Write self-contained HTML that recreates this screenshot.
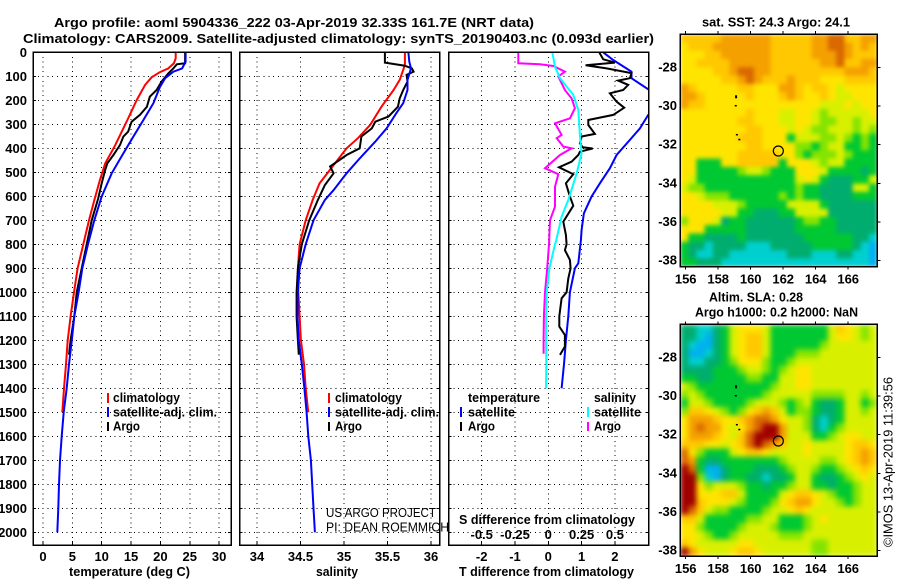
<!DOCTYPE html>
<html>
<head>
<meta charset="utf-8">
<title>Argo profile</title>
<style>
html,body{margin:0;padding:0;background:#fff;width:900px;height:580px;overflow:hidden}
svg{display:block}
text{font-family:"Liberation Sans",sans-serif;font-weight:bold;font-size:13px;fill:#000}
.thin{font-weight:normal;font-size:13px}
.frame{fill:none;stroke:#000;stroke-width:1.5;shape-rendering:crispEdges}
</style>
</head>
<body>
<svg id="chart" width="900" height="580" viewBox="0 0 900 580" xmlns="http://www.w3.org/2000/svg">
<defs>
<clipPath id="clip-p1"><rect x="33" y="52" width="198" height="493"/></clipPath>
<clipPath id="clip-p2"><rect x="239.5" y="52" width="200" height="493"/></clipPath>
<clipPath id="clip-p3"><rect x="448.5" y="52" width="200" height="493"/></clipPath>
<filter id="blur-sst" x="0" y="0" width="100%" height="100%" color-interpolation-filters="sRGB"><feGaussianBlur stdDeviation="2" edgeMode="duplicate"/></filter>
<filter id="blur-sla" x="0" y="0" width="100%" height="100%" color-interpolation-filters="sRGB"><feGaussianBlur stdDeviation="2.6" edgeMode="duplicate"/></filter>
</defs>

<text x="54" y="27" textLength="480" lengthAdjust="spacingAndGlyphs">Argo profile: aoml 5904336_222 03-Apr-2019 32.33S 161.7E (NRT data)</text>
<text x="23" y="43" textLength="631" lengthAdjust="spacingAndGlyphs">Climatology: CARS2009. Satellite-adjusted climatology: synTS_20190403.nc (0.093d earlier)</text>

<g id="grids"></g>
<g id="series"></g>

<rect class="frame" x="33" y="52" width="198" height="493"/>
<rect class="frame" x="239.5" y="52" width="200" height="493"/>
<rect class="frame" x="448.5" y="52" width="200" height="493"/>

<g id="ticklabels"></g>

<text x="69" y="576" textLength="121" lengthAdjust="spacingAndGlyphs">temperature (deg C)</text>
<text x="316" y="576" textLength="42" lengthAdjust="spacingAndGlyphs">salinity</text>
<text x="459" y="576" textLength="175" lengthAdjust="spacingAndGlyphs">T difference from climatology</text>
<text x="459" y="524" textLength="176" lengthAdjust="spacingAndGlyphs">S difference from climatology</text>

<g>
<rect x="107" y="393" width="2" height="10" fill="#f00"/>
<text x="113" y="402" textLength="67" lengthAdjust="spacingAndGlyphs">climatology</text>
<rect x="107" y="407" width="2" height="10" fill="#00f"/>
<text x="113" y="416.500" textLength="104" lengthAdjust="spacingAndGlyphs">satellite-adj. clim.</text>
<rect x="107" y="422" width="2" height="9" fill="#000"/>
<text x="113" y="430.500" textLength="27" lengthAdjust="spacingAndGlyphs">Argo</text>
</g>
<g>
<rect x="328" y="393" width="2" height="10" fill="#f00"/>
<text x="335" y="402" textLength="67" lengthAdjust="spacingAndGlyphs">climatology</text>
<rect x="328" y="407" width="2" height="10" fill="#00f"/>
<text x="335" y="416.500" textLength="104" lengthAdjust="spacingAndGlyphs">satellite-adj. clim.</text>
<rect x="328" y="422" width="2" height="9" fill="#000"/>
<text x="335" y="430.500" textLength="27" lengthAdjust="spacingAndGlyphs">Argo</text>
</g>
<g>
<text x="468" y="402" textLength="72" lengthAdjust="spacingAndGlyphs">temperature</text>
<text x="594" y="402" textLength="42" lengthAdjust="spacingAndGlyphs">salinity</text>
<rect x="460" y="407" width="2" height="10" fill="#00f"/>
<text x="468" y="416.500" textLength="47" lengthAdjust="spacingAndGlyphs">satellite</text>
<rect x="460" y="422" width="2" height="9" fill="#000"/>
<text x="468" y="430.500" textLength="27" lengthAdjust="spacingAndGlyphs">Argo</text>
<rect x="587" y="407" width="2" height="10" fill="#0ff"/>
<text x="594" y="416.500" textLength="47" lengthAdjust="spacingAndGlyphs">satellite</text>
<rect x="587" y="422" width="2" height="9" fill="#f0f"/>
<text x="594" y="430.500" textLength="27" lengthAdjust="spacingAndGlyphs">Argo</text>
</g>

<text class="thin" x="326" y="517" textLength="110" lengthAdjust="spacingAndGlyphs">US ARGO PROJECT</text>
<text class="thin" x="326" y="531.500" textLength="123" lengthAdjust="spacingAndGlyphs">PI: DEAN ROEMMICH</text>

<text x="702" y="26.500" textLength="148" lengthAdjust="spacingAndGlyphs">sat. SST: 24.3 Argo: 24.1</text>
<text x="709" y="301.500" textLength="94" lengthAdjust="spacingAndGlyphs">Altim. SLA: 0.28</text>
<text x="695" y="316.500" textLength="163" lengthAdjust="spacingAndGlyphs">Argo h1000: 0.2 h2000: NaN</text>

<g id="maps"></g>

<text class="thin" transform="translate(892.500,547) rotate(-90)" x="0" y="0" textLength="170" lengthAdjust="spacingAndGlyphs">©IMOS 13-Apr-2019 11:39:56</text>

<script>
const depthTicks = [0,100,200,300,400,500,600,700,800,900,1000,1100,1200,1300,1400,1500,1600,1700,1800,1900,2000];
const tempTicks = [0,5,10,15,20,25,30];
const salTicks = [34,34.5,35,35.5,36];
const tDiffTicks = [-2,-1,0,1,2];
const sDiffTicks = [-0.5,-0.25,0,0.25,0.5];
const lonTicks = [156,158,160,162,164,166];
const latTicks = [-28,-30,-32,-34,-36,-38];

const tempClimDepth = [0,25,46,67,83,104,136,199,276,387,463,532,615,700,800,900,1000,1100,1200,1300,1400,1500];
const tempClimValue = [22.6,22.6,22.3,21.35,19.9,18.5,17.4,15.96,14.5,12.3,10.6,9.7,8.75,7.84,6.87,5.9,5.28,4.71,4.2,3.92,3.58,3.29];
const tempSatDepth = [0,39,67,81,108,146,212,282,351,421,504,601,700,800,900,1000,1100,1200,1300,1400,1500,1600,1700,1800,1900,2000];
const tempSatValue = [24.3,24.3,23.7,22.2,20.8,19.9,18.8,17.1,15.4,13.7,11.7,10.0,8.74,7.66,6.7,6.07,5.34,4.9,4.43,4.03,3.52,3.18,2.9,2.73,2.6,2.44];
const tempArgoDepth = [0,46,50,67,88,122,157,185,227,261,289,331,351,387,428,463,490,546,609,700,800,900,1000,1100,1200,1260];
const tempArgoValue = [24.2,24.2,22.8,22.2,21.35,20.2,19.35,18.2,17.7,16.5,15.1,14.5,13.7,13.1,12,10.95,10.6,10,9.4,8.3,7.45,6.6,5.74,5.34,4.7,4.43];

const salClimDepth = [0,53,115,157,227,303,358,400,470,546,615,700,800,900,1000,1100,1200,1300,1400,1500];
const salClimValue = [35.70,35.70,35.64,35.57,35.43,35.30,35.16,35.03,34.88,34.72,34.64,34.56,34.49,34.47,34.475,34.49,34.505,34.54,34.56,34.59];
const salSatDepth = [0,39,67,115,157,212,254,317,372,442,504,574,615,700,800,900,1000,1100,1200,1300,1400,1500,1600,1700,1800,1900,2000];
const salSatValue = [35.74,35.75,35.77,35.73,35.73,35.68,35.6,35.49,35.36,35.18,35.03,34.88,34.78,34.65,34.56,34.49,34.47,34.465,34.48,34.515,34.545,34.57,34.59,34.62,34.635,34.65,34.665];
const salArgoDepth = [0,43,56,67,81,94,122,157,192,227,268,289,317,351,400,428,476,504,553,615,700,800,900,1000,1100,1200,1260];
const salArgoValue = [35.47,35.47,35.70,35.78,35.80,35.72,35.73,35.68,35.64,35.62,35.51,35.36,35.32,35.2,35.18,35.03,34.84,34.88,34.78,34.7,34.6,34.515,34.47,34.455,34.455,34.47,34.48];

const dtSatDepth = [0,32,81,108,154,205,261,317,365,428,483,546,601,671,740,782,879,900,1000,1100,1200,1300,1400];
const dtSatValue = [1.65,1.95,2.5,2.5,3.0,3.6,3.0,2.75,2.45,2.05,1.85,1.55,1.3,1.07,1.0,0.98,0.9,0.8,0.65,0.6,0.53,0.47,0.4];
const dtArgoDepth = [0,29,43,54,67,87,108,118,136,157,171,206,231,261,282,303,340,351,379,396,401,414,428,456,479,508,546,601,639,706,761,800,824,865,900,942,1000,1025,1100,1143,1178,1226,1261];
const dtArgoValue = [1.53,1.65,2.0,1.12,1.75,2.5,2.45,2.1,2.4,2.25,1.85,2.05,2.28,1.95,1.2,1.2,1.4,1.0,0.95,1.03,1.33,0.95,0.9,0.7,0.32,0.75,0.53,0.65,0.75,0.45,0.53,0.55,0.5,0.65,0.67,0.6,0.55,0.4,0.33,0.33,0.5,0.5,0.35];
const dsSatDepth = [0,60,108,178,240,351,421,504,615,685,782,800,900,1000,1100,1200,1300,1400];
const dsSatValue = [0.03,0.05,0.088,0.188,0.225,0.238,0.25,0.213,0.15,0.1,0.06,0.05,0.008,-0.012,-0.017,-0.017,-0.015,-0.017];
const dsArgoDepth = [0,46,50,57,81,101,157,192,233,275,296,344,358,393,400,428,483,508,560,643,700,800,900,1000,1100,1200,1256];
const dsArgoValue = [-0.225,-0.225,-0.062,0.038,0.125,0.075,0.125,0.175,0.2,0.163,0.05,0.1,0.063,0.113,0.175,0.088,-0.025,0.075,0.05,0.05,0.013,0.005,-0.008,-0.025,-0.033,-0.035,-0.035];

const sstGrid = [
[7,7,7,7,7,8,8,8,8,8,8,7,7,7,7,7,8,8,9,9,7,7,8,8],
[6,7,7,7,8,8,8,8,8,8,8,7,7,7,7,7,8,8,9,9,8,7,8,7],
[6,6,6,7,7,8,8,8,8,8,8,7,7,7,7,7,8,8,8,9,8,7,7,7],
[6,6,7,7,7,7,8,8,8,8,8,7,7,7,7,7,7,8,8,9,7,7,8,8],
[6,6,6,6,7,7,8,9,9,8,8,7,7,7,7,7,7,7,7,7,8,8,8,7],
[6,6,6,6,6,7,7,8,9,8,7,7,7,8,7,7,7,6,6,6,7,7,7,7],
[8,7,6,6,6,6,6,7,7,6,6,6,8,8,7,6,7,7,6,5,6,6,6,6],
[8,8,7,6,6,6,6,6,7,6,6,6,7,8,7,6,6,7,6,5,5,6,6,6],
[8,7,7,6,6,6,6,6,6,6,6,6,6,6,6,6,6,5,5,5,6,5,6,6],
[6,6,6,6,6,6,6,6,7,6,6,6,5,5,6,6,5,4,5,5,5,5,5,6],
[6,6,6,6,6,6,6,7,7,6,6,6,5,5,6,6,5,4,4,5,5,4,5,5],
[6,6,6,6,6,6,6,6,7,7,6,6,6,5,6,5,4,4,5,5,5,4,5,4],
[6,6,6,6,6,6,6,7,7,7,6,6,6,3,5,5,5,4,4,5,4,3,4,3],
[6,6,6,6,6,6,6,6,7,7,6,6,6,6,4,4,3,4,5,5,3,3,4,3],
[6,6,6,6,6,6,6,7,7,7,7,7,6,6,4,3,4,4,4,5,4,3,3,3],
[6,6,3,3,3,6,6,7,7,7,7,7,3,6,6,6,5,4,5,5,3,3,3,3],
[6,6,3,3,3,3,3,4,5,5,4,3,3,3,6,6,6,5,3,3,3,3,2,3],
[6,5,3,3,3,3,3,3,3,3,3,3,3,3,5,6,5,3,2,2,2,3,3,5],
[5,4,4,3,3,3,3,3,3,3,3,3,3,3,4,3,3,2,2,2,2,5,5,3],
[6,6,5,4,4,4,3,3,3,3,3,3,4,3,4,3,3,2,2,2,2,3,3,3],
[6,6,6,6,5,5,5,4,3,3,3,3,3,5,5,5,5,3,2,2,2,2,2,2],
[6,6,6,6,6,5,5,3,3,2,2,2,3,3,5,5,5,5,2,2,2,2,2,2],
[4,6,6,6,5,2,3,3,2,2,2,2,2,2,3,4,4,3,3,2,2,2,2,2],
[6,6,6,3,3,3,3,3,2,2,2,2,2,2,3,3,3,3,3,2,2,2,2,2],
[6,3,3,2,2,2,2,3,2,2,2,2,2,2,2,3,3,3,3,3,3,2,2,1],
[3,2,2,1,2,2,2,2,1,1,1,2,2,2,2,2,3,3,3,3,3,2,1,0],
[3,2,1,1,2,2,1,1,1,1,1,1,1,2,2,2,1,1,1,2,2,1,1,0],
[3,3,2,2,2,1,1,1,1,1,1,1,1,1,1,1,1,1,1,1,1,1,1,0]
];
const slaGrid = [
[2,2,1,1,2,3,5,6,6,6,5,3,3,3,3,3,3,3,5,7,6,5,4,5],
[2,2,1,0,2,3,5,6,7,7,5,3,3,3,3,3,3,3,5,6,6,5,4,5],
[2,1,0,0,2,3,5,6,7,7,5,3,3,3,3,3,3,4,5,5,5,5,5,5],
[2,0,0,1,2,3,5,6,7,7,5,3,3,3,4,4,4,5,5,5,5,5,5,5],
[2,1,1,2,2,3,4,6,6,6,4,3,3,4,5,5,5,5,5,5,5,5,5,5],
[2,2,2,2,3,3,3,4,5,5,4,3,4,5,6,6,5,5,5,5,5,5,5,5],
[3,3,2,2,3,3,3,3,4,4,3,3,5,5,6,6,5,5,5,5,5,5,5,5],
[5,4,3,3,3,3,3,3,3,3,3,4,5,5,6,6,5,5,5,5,5,5,5,5],
[4,5,4,3,3,3,3,3,3,3,4,5,5,5,5,5,4,4,4,4,5,5,4,5],
[3,5,5,4,3,3,3,3,4,5,5,5,4,3,4,5,3,2,2,3,5,5,3,4],
[4,7,7,6,5,4,3,4,6,7,8,7,5,3,4,4,3,2,2,3,5,5,4,5],
[6,8,8,8,7,6,6,7,8,9,9,8,6,5,5,4,2,1,2,3,5,5,5,5],
[6,8,9,8,8,6,5,6,8,9,10,10,8,5,5,4,2,1,3,4,5,5,5,5],
[6,8,8,8,7,6,5,7,9,10,10,10,8,5,5,5,3,3,4,5,6,6,5,5],
[7,7,7,6,6,5,6,7,9,10,9,8,7,5,5,6,5,5,5,5,6,7,7,6],
[9,6,4,3,3,3,5,6,7,7,6,5,5,5,5,6,5,5,5,5,6,7,8,7],
[9,8,3,2,2,3,3,3,3,3,3,3,4,5,5,5,5,4,4,5,6,7,8,7],
[10,9,3,0,0,2,3,3,3,2,2,2,3,4,5,5,4,3,3,4,5,6,7,6],
[10,10,4,1,0,2,3,3,2,2,1,2,2,3,5,5,3,2,2,3,4,5,6,5],
[10,10,6,4,5,5,5,4,3,3,2,3,3,4,5,5,3,3,2,3,3,4,5,5],
[10,10,6,6,6,7,7,5,3,3,3,3,5,6,7,7,6,5,4,3,3,4,5,5],
[10,10,7,6,6,6,5,4,3,3,3,4,6,7,8,8,6,5,5,4,3,4,5,5],
[10,9,7,5,4,4,3,3,3,3,4,5,5,6,7,6,5,5,5,5,5,5,5,5],
[7,7,5,3,3,3,3,3,4,4,5,5,3,3,3,4,5,6,5,5,5,5,5,5],
[6,6,4,3,3,3,3,4,5,5,5,4,3,3,3,4,5,5,5,5,5,5,5,5],
[6,6,5,4,3,3,4,5,5,5,5,5,4,4,4,5,5,5,5,5,5,5,5,5],
[7,6,5,5,5,5,5,6,6,5,5,5,5,5,5,5,4,4,5,5,5,5,5,5],
[10,8,6,5,5,5,6,7,7,6,5,5,5,5,5,5,4,4,5,5,5,5,5,5]
];
const profileLon = [161.7];
const profileLat = [-32.33];
const landLon = [159.1,159.08,159.15,159.3];
const landLat = [-29.5,-30.0,-31.5,-31.75];

/* scales and styling */
const NS = 'http://www.w3.org/2000/svg';
const levelColors = ['#00b0f0','#00cfcf','#00ad6e','#00c832','#84e400','#d8f000','#ffe400','#ffc800','#f4a000','#d86800','#a00000'];
const yD = d => 52.3 + 0.24 * d;
const xT = v => 43 + 5.87 * v;
const xS = v => 257 + 87 * (v - 34);
const xDT = v => 548.3 + 33.3 * v;
const xDS = v => 548.3 + 133.2 * v;
const mapBox = [
  {x0:680, x1:877.3, y0:34, y1:266.7, lat28:67.3},
  {x0:680, x1:877.3, y0:324.3, y1:556, lat28:357.3}
];
const lonX = lon => 685.7 + 16.25 * (lon - 156);
const latY = (lat, box) => box.lat28 + 19.33 * (-28 - lat);

function mk(parent, tag, attrs, txt) {
  const el = document.createElementNS(NS, tag);
  for (const k in attrs) el.setAttribute(k, attrs[k]);
  if (txt !== undefined) el.textContent = txt;
  parent.appendChild(el);
  return el;
}

const grids = document.getElementById('grids');
const seriesG = document.getElementById('series');
const labels = document.getElementById('ticklabels');
const mapsG = document.getElementById('maps');

const panels = [
  {left:33, right:231, ticks:tempTicks, sc:xT, name:'temperature'},
  {left:239.5, right:439.5, ticks:salTicks, sc:xS, name:'salinity'},
  {left:448.5, right:648.5, ticks:tDiffTicks, sc:xDT, name:'t-difference'}
];
const gridStyle = {stroke:'#000', 'stroke-width':1, 'stroke-dasharray':'1 3.8', 'shape-rendering':'crispEdges'};
panels.forEach(p => {
  depthTicks.forEach(d => {
    const ln = mk(grids, 'line', Object.assign({x1:p.left, x2:p.right, y1:yD(d), y2:yD(d)}, gridStyle));
    
    
    [[p.left, p.left+3],[p.right-3, p.right]].forEach(s => {
      const t = mk(grids, 'line', {x1:s[0], x2:s[1], y1:yD(d), y2:yD(d), stroke:'#000', 'stroke-width':1, 'shape-rendering':'crispEdges'});
      
      
    });
  });
  p.ticks.forEach(v => {
    const ln = mk(grids, 'line', Object.assign({x1:p.sc(v), x2:p.sc(v), y1:52, y2:545}, gridStyle));
    
    
    const t = mk(grids, 'line', {x1:p.sc(v), x2:p.sc(v), y1:541, y2:545, stroke:'#000', 'stroke-width':1, 'shape-rendering':'crispEdges'});
    
    
    const lb = mk(labels, 'text', {x:p.sc(v), y:561, 'text-anchor':'middle'}, String(v));
    
    
  });
});
depthTicks.forEach(d => {
  const lb = mk(labels, 'text', {x:27, y:yD(d) + 4.5, 'text-anchor':'end'}, String(d));
  
  
});
sDiffTicks.forEach(v => {
  const txt = v === 0 ? '0' : String(v);
  const lb = mk(labels, 'text', {x:xDS(v), y:539, 'text-anchor':'middle'}, txt);
  
  
});

const seriesDefs = [
  ['temperature-climatology-line', tempClimDepth, tempClimValue, xT, '#f00', 'clip-p1'],
  ['temperature-argo-line', tempArgoDepth, tempArgoValue, xT, '#000', 'clip-p1'],
  ['temperature-satellite-line', tempSatDepth, tempSatValue, xT, '#00f', 'clip-p1'],
  ['salinity-climatology-line', salClimDepth, salClimValue, xS, '#f00', 'clip-p2'],
  ['salinity-argo-line', salArgoDepth, salArgoValue, xS, '#000', 'clip-p2'],
  ['salinity-satellite-line', salSatDepth, salSatValue, xS, '#00f', 'clip-p2'],
  ['t-difference-satellite-line', dtSatDepth, dtSatValue, xDT, '#00f', 'clip-p3'],
  ['t-difference-argo-line', dtArgoDepth, dtArgoValue, xDT, '#000', 'clip-p3'],
  ['s-difference-argo-line', dsArgoDepth, dsArgoValue, xDS, '#f0f', 'clip-p3'],
  ['s-difference-satellite-line', dsSatDepth, dsSatValue, xDS, '#0ff', 'clip-p3']
];
seriesDefs.forEach(s => {
  const pts = s[1].map((d, i) => s[3](s[2][i]).toFixed(1) + ',' + yD(d).toFixed(1)).join(' ');
  const pl = mk(seriesG, 'polyline', {points:pts, fill:'none', stroke:s[4], 'stroke-width':2, 'stroke-linejoin':'miter', 'clip-path':'url(#' + s[5] + ')'});
  
  
});

function drawMap(grid, box, name, filterId) {
  const g = mk(mapsG, 'g', {filter:'url(#' + filterId + ')'});
  
  
  const rows = grid.length;
  const cols = grid[0].length;
  const w = (box.x1 - box.x0) / cols;
  const h = (box.y1 - box.y0) / rows;
  grid.forEach((row, r) => row.forEach((v, c) => {
    const lvl = Math.max(0, Math.min(levelColors.length - 1, Math.round(v)));
    const cell = mk(g, 'rect', {x:box.x0 + c * w, y:box.y0 + r * h, width:w + 0.5, height:h + 0.5, fill:levelColors[lvl]});
    
    
  }));
  landLon.forEach((lon, i) => {
    const dot = mk(mapsG, 'rect', {x:lonX(lon) - 1, y:latY(landLat[i], box) - 1, width:2, height:i === 0 ? 3 : 1.5, fill:'#000'});
    
    
  });
  const marker = mk(mapsG, 'circle', {cx:lonX(profileLon[0]), cy:latY(profileLat[0], box), r:5, fill:'none', stroke:'#000', 'stroke-width':1.2});
  
  
  const frame = mk(mapsG, 'rect', {x:box.x0, y:box.y0, width:box.x1 - box.x0, height:box.y1 - box.y0, fill:'none', stroke:'#000', 'stroke-width':1.5, 'shape-rendering':'crispEdges'});
  
  
  lonTicks.forEach(lon => {
    [[box.y0 - 3, box.y0],[box.y1, box.y1 + 3]].forEach(s => {
      const t = mk(mapsG, 'line', {x1:lonX(lon), x2:lonX(lon), y1:s[0], y2:s[1], stroke:'#000', 'stroke-width':1, 'shape-rendering':'crispEdges'});
      
      
    });
    const lb = mk(mapsG, 'text', {x:lonX(lon), y:box.y1 + 17, 'text-anchor':'middle'}, String(lon));
    
    
  });
  latTicks.forEach(lat => {
    const y = latY(lat, box);
    const t = mk(mapsG, 'line', {x1:box.x1, x2:box.x1 + 3, y1:y, y2:y, stroke:'#000', 'stroke-width':1, 'shape-rendering':'crispEdges'});
    
    
    const lb = mk(mapsG, 'text', {x:677, y:y + 4, 'text-anchor':'end'}, String(lat));
    
    
  });
}
drawMap(sstGrid, mapBox[0], 'sst-map', 'blur-sst');
drawMap(slaGrid, mapBox[1], 'sla-map', 'blur-sla');
</script>
</svg>
</body>
</html>
